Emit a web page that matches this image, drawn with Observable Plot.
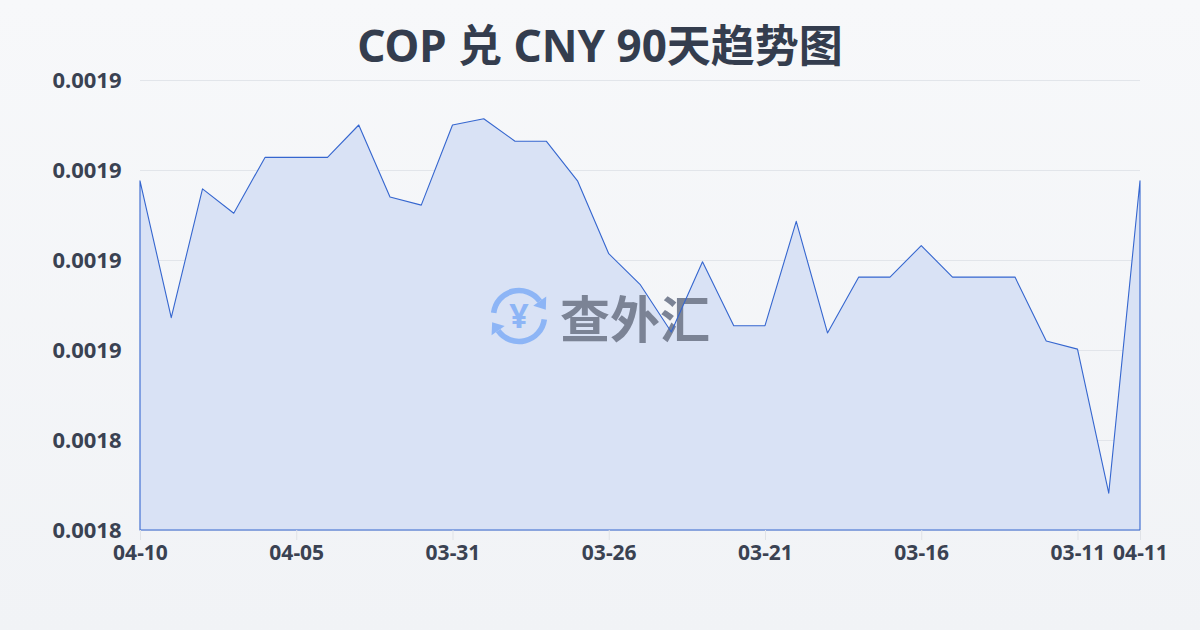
<!DOCTYPE html>
<html><head><meta charset="utf-8">
<script src="https://cdn.jsdelivr.net/npm/d3@7"></script>
<script src="https://cdn.jsdelivr.net/npm/@observablehq/plot@0.6"></script>
<style>
html,body{margin:0;padding:0;}
body{width:1200px;height:630px;overflow:hidden;background:linear-gradient(180deg,#f7f8fa 0%,#f1f3f6 100%);font-family:"Noto Sans","Noto Sans CJK SC",sans-serif;}
#title{height:70px;line-height:90px;text-align:center;font-size:44px;font-weight:700;color:#343d4e;font-family:"Noto Sans","Noto Sans CJK SC",sans-serif;}
#chart svg{display:block;background:transparent;}
</style></head>
<body>
<div id="title">COP 兑 CNY 90天趋势图</div>
<div id="chart"></div>
<script>
const dates = ["04-10","04-09","04-08","04-07","04-06","04-05","04-04","04-03","04-02","04-01","03-31","03-30","03-29","03-28","03-27","03-26","03-25","03-24","03-23","03-22","03-21","03-20","03-19","03-18","03-17","03-16","03-15","03-14","03-13","03-12","03-11","03-10","04-11"];
const rates = [0.0018788,0.0018636,0.0018779,0.0018752,0.0018814,0.0018814,0.0018814,0.0018850,0.0018770,0.0018761,0.0018850,0.0018857,0.0018832,0.0018832,0.0018788,0.0018707,0.0018673,0.0018620,0.0018698,0.0018627,0.0018627,0.0018743,0.0018619,0.0018681,0.0018681,0.0018716,0.0018681,0.0018681,0.0018681,0.0018610,0.0018601,0.0018441,0.0018788];
const xTickIdx = [0,5,10,15,20,25,30,32];
const yTicks = [0.00189,0.00188,0.00187,0.00186,0.00185,0.00184];
const yLabels = ["0.0019","0.0019","0.0019","0.0019","0.0018","0.0018"];

const data = rates.map((v,i)=>({i, date: dates[i], v}));
const textColor = "#3a4252";

function watermark(){
  const g = d3.create("svg:g").attr("pointer-events","none");
  const cx = 519, cy = 246, r = 25.5, col = "#8db5f6";
  const arc = d3.arc().innerRadius(r-2.8).outerRadius(r+2.8);
  g.append("path").attr("transform",`translate(${cx},${cy})`).attr("fill",col)
    .attr("d", arc({startAngle:-1.45, endAngle:0.95}));
  g.append("path").attr("transform",`translate(${cx},${cy})`).attr("fill",col)
    .attr("d", arc({startAngle:1.7, endAngle:4.1}));
  const ah = (a) => {
    const x = cx + r*Math.sin(a), y = cy - r*Math.cos(a);
    const tx = Math.cos(a), ty = Math.sin(a);
    const nx = Math.sin(a), ny = -Math.cos(a);
    const s = 8;
    return `M${x+nx*s},${y+ny*s}L${x-nx*s},${y-ny*s}L${x+tx*s*1.3},${y+ty*s*1.3}Z`;
  };
  g.append("path").attr("fill",col).attr("d", ah(0.95));
  g.append("path").attr("fill",col).attr("d", ah(4.1));
  g.append("text").attr("x",cx).attr("y",cy+12).attr("text-anchor","middle")
    .attr("font-size",34).attr("font-weight",700).attr("fill",col)
    .attr("font-family","Noto Sans, sans-serif").text("¥");
  g.append("text").attr("x",560).attr("y",246).attr("dominant-baseline","central")
    .attr("text-anchor","start")
    .attr("font-size",50).attr("font-weight",700).attr("fill","#7b8395")
    .attr("font-family","Noto Sans CJK SC, sans-serif").text("查外汇");
  return g.node();
}

const chart = Plot.plot({
  width: 1200,
  height: 490,
  marginTop: 10,
  marginBottom: 30,
  marginLeft: 140,
  marginRight: 60,
  style: {background: "transparent", fontFamily: "'Noto Sans','Open Sans',sans-serif", overflow: "visible"},
  x: {type: "linear", domain: [0, dates.length - 1], axis: null, label: null},
  y: {domain: [d3.min(yTicks), d3.max(yTicks)], axis: null, label: null},
  marks: [
    Plot.gridY(yTicks, {stroke: "#e2e5ea", strokeOpacity: 1, strokeWidth: 1}),
    Plot.areaY(data, {x: "i", y: "v", y1: d3.min(yTicks), fill: "#d9e2f5", fillOpacity: 1}),
    watermark,
    Plot.areaY(data, {x: "i", y: "v", y1: d3.min(yTicks), fill: "none", stroke: "#3566cf", strokeWidth: 1.1}),
    Plot.axisY(yTicks, {label: null, tickSize: 0, tickPadding: 19, fontSize: 22, fontWeight: 700, fill: textColor,
      tickFormat: (d) => yLabels[yTicks.indexOf(d)]}),
    Plot.axisX(xTickIdx, {label: null, tickSize: 10, stroke: "#dfe2e7", strokeOpacity: 1, text: null}),
    Plot.axisX(xTickIdx, {label: null, tickSize: 0, tickPadding: 15, fontSize: 21, fontWeight: 700, fill: textColor,
      tickFormat: (i) => dates[i]})
  ]
});
document.getElementById("chart").appendChild(chart);
</script>
</body></html>
